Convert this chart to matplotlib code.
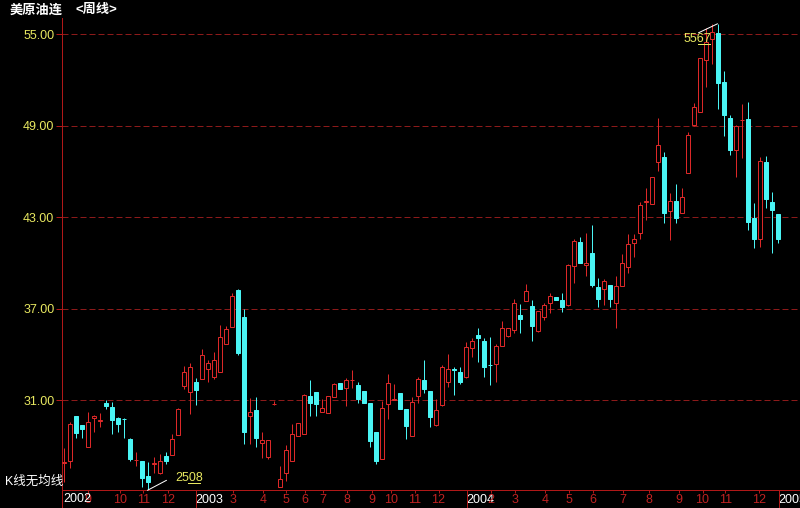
import numpy as np
import matplotlib
matplotlib.use('Agg')
import matplotlib.pyplot as plt

plt.rcParams['font.family'] = ['Liberation Sans', 'Noto Sans CJK SC', 'DejaVu Sans']

# weekly OHLC, Aug 2002 .. first week of 2005
opens = [26.87, 27.02, 29.95, 29.36, 27.90, 29.85, 29.60, 30.82, 30.56, 29.84,
         29.77, 28.44, 27.05, 27.00, 26.02, 26.78, 26.19, 27.33, 27.37, 28.72,
         31.94, 31.50, 32.16, 32.36, 33.01, 32.49, 32.86, 34.67, 35.77, 38.21,
         36.42, 29.97, 30.34, 28.16, 27.28, 30.72, 25.31, 26.19, 27.02, 28.64,
         28.75, 31.26, 31.52, 30.23, 30.17, 31.22, 32.10, 31.77, 32.29, 31.96,
         31.59, 30.78, 28.88, 27.11, 30.72, 31.03, 31.44, 30.41, 28.66, 31.28,
         32.31, 31.59, 29.36, 30.67, 32.16, 33.03, 32.84, 32.49, 34.43, 35.26,
         34.87, 33.32, 33.34, 34.54, 35.22, 35.59, 36.55, 37.51, 37.16, 35.52,
         36.46, 37.34, 37.73, 37.56, 37.23, 39.79, 41.38, 39.83, 40.66, 38.39,
         38.28, 38.54, 37.34, 38.48, 39.74, 41.27, 41.93, 43.98, 43.85, 46.63,
         46.91, 43.39, 44.05, 43.28, 45.87, 49.01, 49.91, 53.28, 54.65, 55.09,
         51.85, 49.47, 47.39, 49.34, 49.43, 42.95, 41.54, 46.63, 43.96, 43.20]
highs = [27.83, 29.58, 29.95, 29.36, 30.23, 29.99, 30.13, 31.00, 30.89, 29.90,
         29.80, 28.49, 27.61, 27.00, 26.91, 27.28, 27.46, 27.61, 28.77, 30.46,
         33.25, 33.41, 32.42, 34.34, 33.62, 34.17, 35.92, 35.85, 38.00, 38.28,
         36.97, 31.11, 31.22, 28.92, 28.38, 30.95, 26.67, 28.05, 29.43, 29.51,
         31.37, 32.31, 31.52, 31.05, 31.26, 32.13, 32.10, 32.42, 32.97, 32.18,
         31.59, 30.78, 28.88, 30.91, 32.70, 32.05, 31.44, 30.41, 31.22, 32.51,
         33.62, 31.59, 31.05, 33.30, 34.02, 33.14, 33.18, 34.82, 35.05, 35.72,
         35.05, 35.15, 34.67, 36.18, 35.70, 37.62, 37.28, 38.59, 37.56, 36.84,
         37.38, 38.00, 37.73, 38.00, 39.90, 41.54, 41.71, 41.97, 42.48, 38.98,
         38.93, 38.54, 39.13, 40.57, 41.89, 41.89, 44.00, 44.88, 45.64, 49.47,
         47.28, 44.55, 45.16, 44.88, 48.55, 50.50, 53.43, 55.41, 55.64, 55.67,
         52.57, 49.69, 49.03, 50.41, 50.56, 43.90, 46.91, 47.00, 44.67, 43.20]
lows = [25.64, 26.52, 28.49, 28.49, 27.90, 28.92, 29.21, 30.39, 28.75, 28.92,
        28.53, 27.02, 26.67, 25.31, 25.08, 26.19, 26.15, 26.80, 27.37, 28.72,
        31.72, 30.06, 30.67, 32.36, 32.20, 32.36, 32.86, 34.67, 35.77, 33.95,
        28.11, 28.11, 27.94, 27.18, 27.13, 30.67, 25.31, 25.71, 27.02, 28.64,
        28.75, 29.97, 29.97, 30.23, 30.13, 31.18, 31.74, 30.63, 31.81, 30.78,
        30.82, 27.94, 26.80, 27.11, 29.73, 31.00, 30.43, 28.42, 28.66, 30.78,
        31.48, 29.25, 29.31, 30.63, 31.87, 31.35, 32.05, 32.42, 33.84, 33.51,
        32.53, 31.98, 32.18, 34.54, 35.15, 35.41, 35.41, 37.51, 34.89, 35.48,
        36.25, 36.72, 37.58, 36.79, 37.16, 38.69, 39.96, 39.13, 38.43, 37.12,
        37.23, 37.08, 35.70, 38.48, 39.31, 40.40, 41.54, 42.80, 43.85, 46.05,
        42.62, 41.49, 42.62, 43.28, 45.87, 48.97, 49.91, 51.52, 53.01, 50.06,
        48.31, 47.07, 45.62, 46.87, 42.15, 40.95, 41.05, 43.57, 40.62, 41.31]
closes = [26.91, 29.43, 28.86, 29.10, 29.54, 29.92, 29.66, 30.61, 29.69, 29.43,
          29.73, 27.13, 27.09, 25.91, 25.62, 26.89, 27.00, 27.00, 28.42, 30.41,
          32.82, 33.14, 31.66, 33.93, 33.41, 33.62, 35.11, 35.64, 37.82, 34.10,
          28.88, 30.23, 28.53, 28.38, 28.38, 30.76, 25.82, 27.72, 28.77, 29.51,
          31.33, 30.78, 30.74, 30.46, 31.26, 32.05, 31.74, 32.31, 32.33, 31.09,
          30.82, 28.33, 27.02, 30.46, 32.10, 31.07, 30.43, 29.28, 30.85, 32.40,
          31.74, 29.90, 30.34, 33.14, 33.03, 32.99, 32.18, 34.46, 34.87, 35.09,
          33.18, 33.28, 34.54, 35.70, 35.70, 37.34, 36.31, 38.15, 35.85, 36.84,
          37.23, 37.82, 37.58, 37.12, 39.85, 41.43, 39.96, 40.00, 38.54, 37.62,
          38.80, 37.60, 38.48, 40.00, 41.23, 41.56, 43.79, 44.02, 45.60, 47.72,
          43.28, 44.05, 42.95, 44.29, 48.38, 50.19, 53.41, 54.50, 55.15, 51.81,
          49.72, 47.39, 48.97, 49.38, 42.70, 41.54, 46.67, 44.18, 43.46, 41.56]

# month / year ticks (candle index where the month starts)
tick_pos = [4.1, 9.4, 13.3, 17.4, 22.0, 28.2, 33.3, 37.1, 40.2, 43.3, 47.3, 51.4,
            54.6, 58.5, 62.5, 67.2, 71.3, 75.3, 80.3, 84.3, 88.3, 93.3, 97.5,
            102.5, 106.5, 110.3, 115.9, 119.2]
tick_lbl = ['9', '10', '11', '12', '2003', '3', '4', '5', '6', '7', '8', '9',
            '10', '11', '12', '2004', '2', '3', '4', '5', '6', '7', '8', '9',
            '10', '11', '12', '2005']
grid_levels = [31, 37, 43, 49, 55]

RED = '#dc2828'
CYAN = '#4af4f4'
GRID = '#8c1a1a'
AXIS = '#b01818'
YEL = '#e8e860'
PX = 0.72    # one pixel in points at dpi 100
STEP = 6.0   # pixels per candle

W, H = 800, 508
fig = plt.figure(figsize=(W / 100, H / 100), dpi=100, facecolor='black')
ax = fig.add_axes([62 / W, 18 / H, 738 / W, 472 / H])
ax.set_facecolor('black')

o = np.array(opens); h = np.array(highs); l = np.array(lows); c = np.array(closes)
x = np.arange(len(o))
up = c >= o

ax.vlines(x[up], l[up], h[up], color=RED, lw=PX, zorder=2, snap=True)
ax.vlines(x[~up], l[~up], h[~up], color=CYAN, lw=PX, zorder=2, snap=True)

bot = np.minimum(o, c)
hgt = np.maximum(np.abs(c - o), 0.02)
bw = 4 / STEP
ax.bar(x[up], hgt[up], bottom=bot[up], width=bw, facecolor='black',
       edgecolor=RED, lw=PX, zorder=3, snap=True)
ax.bar(x[~up], hgt[~up], bottom=bot[~up], width=bw, facecolor=CYAN,
       edgecolor=CYAN, lw=PX, zorder=3, snap=True)

for g in grid_levels:
    ax.axhline(g, color=GRID, lw=PX, ls=(0, (6, 3)), zorder=1)

# first candle centred on pixel column 63
x0 = (62 - 63.5) / STEP
ax.set_xlim(x0, x0 + 738 / STEP)
ax.set_ylim(25.10, 56.05)

for s in ['top', 'right']:
    ax.spines[s].set_visible(False)
for s in ['left', 'bottom']:
    ax.spines[s].set_color(AXIS)
    ax.spines[s].set_linewidth(PX)

ax.set_yticks(grid_levels)
ax.set_yticklabels([f'{g:.2f}' for g in grid_levels])
ax.tick_params(axis='y', color=AXIS, labelcolor=YEL, length=4, width=PX,
               pad=1.5, labelsize=9)

ax.set_xticks(tick_pos)
ax.set_xticklabels(tick_lbl)
ax.tick_params(axis='x', color=AXIS, labelcolor='#c02222', length=2.5,
               width=PX, pad=0.5, labelsize=9)
for t in ax.get_xticklabels():
    if len(t.get_text()) == 4:
        t.set_color('white')
        t.set_ha('left')

# year separators below the axis
xt = ax.get_xaxis_transform()
for yr in [x0, 22.0, 67.2, 119.2]:
    ax.plot([yr, yr], [0, -18 / 472], color=AXIS, lw=PX, transform=xt, clip_on=False)
ax.text(0.0, -2.5 / 472, '2002', transform=xt, color='white', fontsize=9,
        ha='left', va='top')

# extreme value marks
imin = int(np.argmin(l))
imax = int(np.argmax(h))
line_kw = dict(arrowstyle='-', color='white', lw=PX, shrinkA=0, shrinkB=0)
ax.annotate('', xy=(imin, l[imin]), xytext=(19, 10), textcoords='offset pixels',
            arrowprops=line_kw)
ax.annotate(f'{l[imin]:.2f}'.replace('.', ''), xy=(imin, l[imin]), xytext=(28, 12),
            textcoords='offset pixels', color=YEL, fontsize=9, ha='left', va='center')
ax.annotate('', xy=(imax, h[imax]), xytext=(-19, -9), textcoords='offset pixels',
            arrowprops=line_kw)
ax.annotate(f'{h[imax]:.2f}'.replace('.', ''), xy=(imax, h[imax]), xytext=(-34, -15),
            textcoords='offset pixels', color=YEL, fontsize=9, ha='left', va='center')

# underline the decimals
fig.canvas.draw()
tr = ax.transData
for idx, val, dx0, dx1, dy in [(imin, l[imin], 40, 52, 7), (imax, h[imax], -20, -8, -20)]:
    px, py = tr.transform((idx, val))
    fig.add_artist(plt.Line2D([(px + dx0) / W, (px + dx1) / W],
                              [(py + dy) / H, (py + dy) / H],
                              color=YEL, lw=PX, transform=fig.transFigure))

fig.text(10 / W, 1 - 10 / H, '美原油连', color='white', fontsize=9.5,
         fontweight='bold', ha='left', va='center')
fig.text(76 / W, 1 - 10 / H, '<周线>', color='white', fontsize=9.5,
         fontweight='bold', ha='left', va='center')
fig.text(5 / W, 1 - 482 / H, 'K线无均线', color='white', fontsize=9,
         ha='left', va='center')

fig.savefig('out.png', dpi=100, facecolor='black')
